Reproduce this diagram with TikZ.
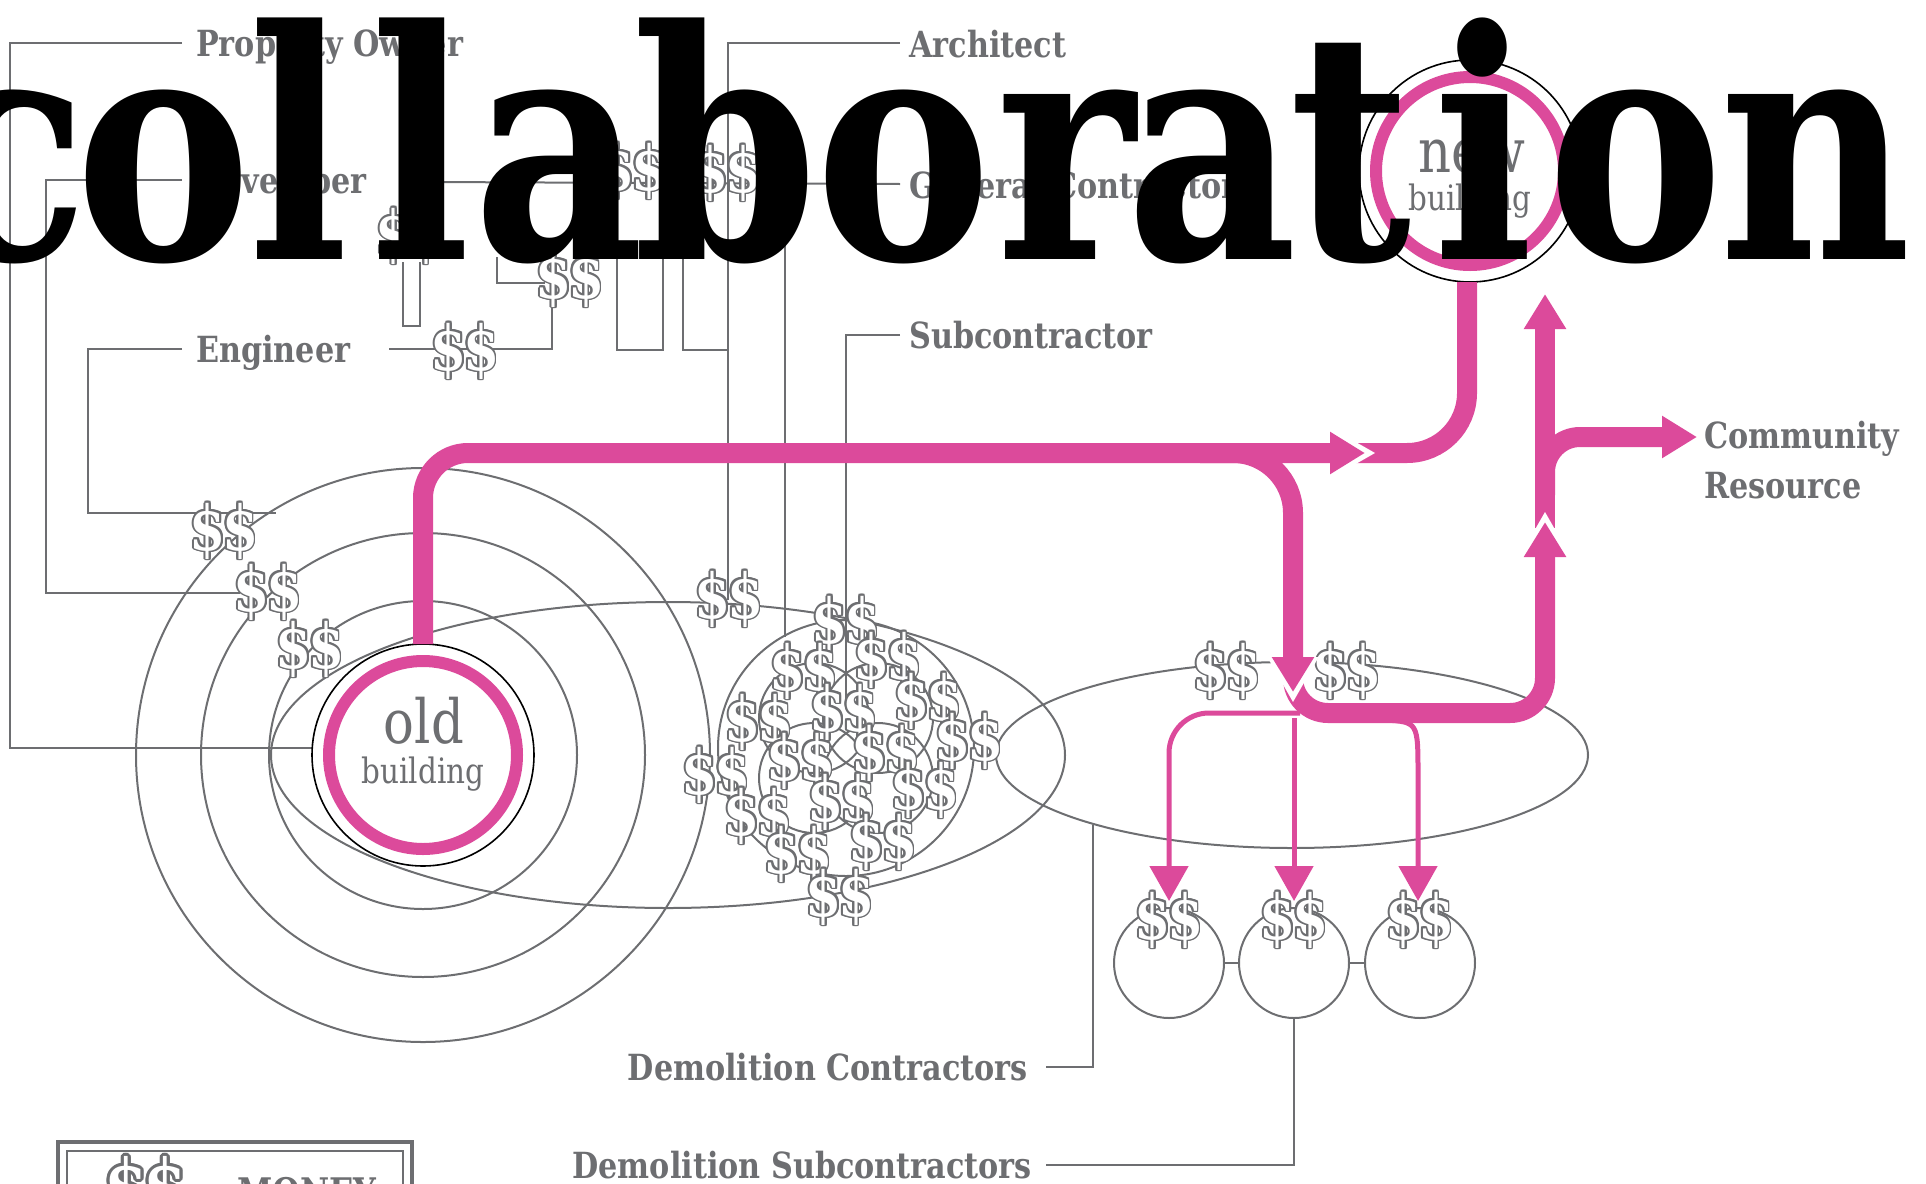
\documentclass[tikz,border=0pt]{standalone}
\usepackage{fontspec}
\usepackage{contour}
\usetikzlibrary{arrows.meta}

\newfontfamily\slab{DejaVu Serif}[FakeStretch=0.84]
\newfontfamily\bigslab{DejaVu Serif}[FakeStretch=0.831]
\definecolor{ink}{RGB}{109,110,113}
\definecolor{hot}{RGB}{220,74,155}
\contourlength{1.8pt}
\newcommand{\bucks}{\textcolor{white}{\contour{ink}{\$\kern-4pt\$}}}
\newcommand{\gaptip}[2]{\fill[white, shift={#1}, rotate=#2] (10,0) -- (-35,-25.7) -- (-35,25.7) -- cycle;}
\newcommand{\glyphbox}[2]{\makebox[#1pt]{#2}}

\tikzset{
  wire/.style={draw=ink, line width=2pt},
  tag/.style={ink, inner sep=0, font=\slab\bfseries\fontsize{36}{36}\selectfont},
  cash/.style={inner sep=0, font=\slab\bfseries\fontsize{62}{62}\selectfont},
  pipe/.style={hot, line width=20pt},
  head/.style={-{Triangle[length=35pt,width=40pt]}},
  twig/.style={hot, line width=5pt, -{Triangle[length=35pt,width=38pt]}},
}

\begin{document}
\begin{tikzpicture}[x=1pt, y=-1pt]
\useasboundingbox (0,0) rectangle (1926,1183);

% rings and ellipses
\foreach \r in {287,222,154}
  \draw[wire] (423,755) circle[radius=\r];
\draw[wire] (668,755) ellipse[x radius=397, y radius=153];
\draw[wire] (1292,755) ellipse[x radius=296, y radius=93];
\draw[wire] (846,748) circle[radius=128];
\foreach \dx/\dy in {-32/-30,32/-30,-32/30,32/30}
  \draw[wire] (846+\dx,748+\dy) circle[radius=55];

% labels
\node[tag, anchor=base west] (owner) at (196,56) {Property Owner};
\node[tag, anchor=base west] (dev) at (196,193) {Developer};
\node[tag, anchor=base west] (eng) at (196,362) {Engineer};
\node[tag, anchor=base west] (arch) at (909,57) {Architect};
\node[tag, anchor=base west] (gc) at (909,198) {General Contractor};
\node[tag, anchor=base west] (sub) at (909,348) {Subcontractor};
\node[tag, anchor=base west] (comm) at (1704,448) {Community};
\node[tag, anchor=base west] (res) at (1704,498) {Resource};
\node[tag, anchor=base east] (democ) at (1028,1080) {Demolition Contractors};
\node[tag, anchor=base east] (demos) at (1032,1178) {Demolition Subcontractors};

% wires
\draw[wire] (182,43) -| (10,748) -- (312,748);
\draw[wire] (182,180) -| (46,593) -- (240,593);
\draw[wire] (182,349) -| (88,513) -- (276,513);
\draw[wire] (427,182) -- (900,184);
\draw[wire] (389,349) -| (552,300);
\draw[wire] (403,262) |- (420,326) -- (420,262);
\draw[wire] (497,257) |- (545,283);
\draw[wire] (617,257) |- (663,350) -- (663,258);
\draw[wire] (683,258) |- (728,350);
\draw[wire] (900,43) -| (728,600);
\draw[wire] (785,238) -- (785,637);
\draw[wire] (900,335) -| (846,698);

% demolition pits
\foreach \n/\x in {1/1169,2/1294,3/1420}
  \node[wire, circle, minimum size=110pt, inner sep=0] (pit\n) at (\x,963) {};
\draw[wire] (pit1.east) -- (pit2.west);
\draw[wire] (pit2.east) -- (pit3.west);
\draw[wire] ([xshift=18pt]democ.east) -| (1093,825);
\draw[wire] ([xshift=14pt]demos.east) -| (pit2.south);

% money
\foreach \p in {(224,532),(268,593),(310,650),(729,600),(1227,672),(1347,672),
    (465,352),(570,280),(633,172),(727,174),(410,237),
    (1169,921),(1294,921),(1420,921),
    (846,625),(804,672),(888,661),(928,702),(759,723),(844,713),(969,742),
    (716,776),(801,762),(886,754),(758,817),(842,803),(925,791),
    (798,855),(883,843),(840,898)}
  \node[cash] at \p {\bucks};

% old building
\draw[black, line width=1.6pt, fill=white] (423,755) circle[radius=111];
\draw[hot, line width=12pt] (423,755) circle[radius=94];
\node[ink, inner sep=0, anchor=base, font=\slab\fontsize{61}{61}\selectfont] (old) at (424,743) {old};
\node[ink, inner sep=0, anchor=base, font=\slab\fontsize{35}{35}\selectfont] (oldb) at (423,783) {building};

% new building
\draw[black, line width=1.6pt, fill=white] (1470,171) circle[radius=111];
\draw[hot, line width=12pt] (1470,171) circle[radius=94];
\node[ink, inner sep=0, anchor=base, font=\slab\fontsize{61}{61}\selectfont] (new) at (1472,172) {new};
\node[ink, inner sep=0, anchor=base, font=\slab\fontsize{35}{35}\selectfont] (newb) at (1470,210) {building};

% flows
\draw[pipe, rounded corners=60pt] (1355,453) -| (1467,282);
\draw[pipe, head] (1545,528) -- (1545,294);
\draw[pipe, head, rounded corners=35pt] (1545,495) |- (1697,437);
\gaptip{(1545,522)}{90}
\draw[pipe, head, rounded corners=35pt] (1293,670) |- (1545,713) -- (1545,522);
\gaptip{(1293,692)}{-90}
\draw[pipe, head, rounded corners=60pt] (1200,453) -| (1293,692);
\gaptip{(1365,453)}{0}
\draw[pipe, head, rounded corners=45pt] (423,644) |- (1365,453);
\draw[twig, rounded corners=40pt] (1300,713) -| (1169,901);
\draw[twig] (1294,718) -- (1294,901);
\draw[twig] (1385,720) .. controls (1418,722) .. (1418,775) -- (1418,901);

% legend
\draw[ink, line width=4pt] (58,1142) rectangle (412,1240);
\draw[ink, line width=2pt] (67,1151) rectangle (403,1231);
\node[inner sep=0, font=\slab\bfseries\fontsize{75}{75}\selectfont] (key) at (146,1192)
  {\contourlength{3pt}\textcolor{white}{\contour{ink}{\$\kern-5pt\$}}};
\node[tag, anchor=base west, font=\slab\bfseries\fontsize{38}{38}\selectfont] (money) at (237,1205) {MONEY};

% title
\node[anchor=base west, inner sep=0, font=\bigslab\bfseries\fontsize{318}{318}\selectfont] (title) at (-72.5,259)
  {\glyphbox{161}{c}\glyphbox{150}{o}\glyphbox{120.5}{l}\glyphbox{124}{l}\glyphbox{153}{a}%
   \glyphbox{179.5}{b}\glyphbox{175}{o}\glyphbox{150}{r}\glyphbox{143.5}{a}\glyphbox{132}{t}%
   \glyphbox{135}{i}\glyphbox{168}{o}\glyphbox{192}{n}};
\end{tikzpicture}
\end{document}
